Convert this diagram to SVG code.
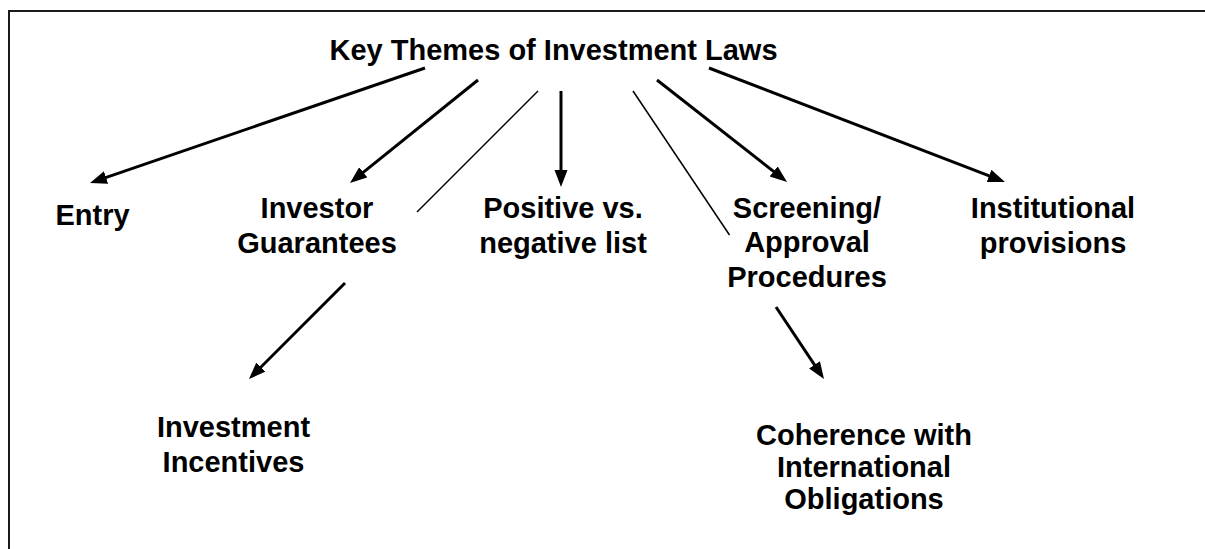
<svg xmlns="http://www.w3.org/2000/svg" width="1205" height="549" viewBox="0 0 1205 549">
  <style>
    .lbl { font-family: "Liberation Sans", Arial, sans-serif; font-weight: bold; font-size: 29px; fill: #000; text-anchor: middle; }
    .arrow { stroke: #000; stroke-width: 3; fill: none; marker-end: url(#head); }
    .thin { stroke: #000; stroke-width: 1.5; fill: none; }
    .frame { stroke: #1a1a1a; stroke-width: 2; fill: none; }
  </style>
  <defs>
    <marker id="head" markerUnits="userSpaceOnUse" markerWidth="18" markerHeight="14" refX="12" refY="6.5" orient="auto">
      <path d="M0,0 L17,6.5 L0,13 Z" fill="#000"/>
    </marker>
  </defs>

  <rect width="1205" height="549" fill="#fff"/>
  <!-- outer frame: only the top and left edges fall inside the canvas -->
  <path class="frame" d="M9,549 L9,11 L1205,11"/>

  <g id="connectors">
    <line class="arrow" x1="425" y1="68" x2="94.7" y2="181.4"/>
    <line class="arrow" x1="478" y1="80" x2="353.9" y2="179.9"/>
    <line class="thin" x1="538" y1="91" x2="417" y2="212"/>
    <line class="arrow" x1="561" y1="91" x2="561" y2="182"/>
    <line class="thin" x1="633" y1="91" x2="729.5" y2="235"/>
    <line class="arrow" x1="657" y1="80" x2="783.1" y2="178.9"/>
    <line class="arrow" x1="709" y1="68" x2="1000.3" y2="180.2"/>
    <line class="arrow" x1="345" y1="283" x2="252.5" y2="375.5"/>
    <line class="arrow" x1="776" y1="307" x2="821.2" y2="374.8"/>
  </g>

  <g id="node-key-themes">
    <text class="lbl" x="553.5" y="60">Key Themes of Investment Laws</text>
  </g>
  <g id="node-entry">
    <text class="lbl" x="92.5" y="225">Entry</text>
  </g>
  <g id="node-investor-guarantees">
    <text class="lbl" x="317" y="218">Investor</text>
    <text class="lbl" x="317" y="253">Guarantees</text>
  </g>
  <g id="node-positive-negative">
    <text class="lbl" x="563" y="218">Positive vs.</text>
    <text class="lbl" x="563" y="253">negative list</text>
  </g>
  <g id="node-screening">
    <text class="lbl" x="807" y="218">Screening/</text>
    <text class="lbl" x="807" y="252">Approval</text>
    <text class="lbl" x="807" y="287">Procedures</text>
  </g>
  <g id="node-institutional">
    <text class="lbl" x="1053" y="218">Institutional</text>
    <text class="lbl" x="1053" y="253">provisions</text>
  </g>
  <g id="node-incentives">
    <text class="lbl" x="233.5" y="437">Investment</text>
    <text class="lbl" x="233.5" y="472">Incentives</text>
  </g>
  <g id="node-coherence">
    <text class="lbl" x="864" y="445">Coherence with</text>
    <text class="lbl" x="864" y="477">International</text>
    <text class="lbl" x="864" y="509">Obligations</text>
  </g>
</svg>
